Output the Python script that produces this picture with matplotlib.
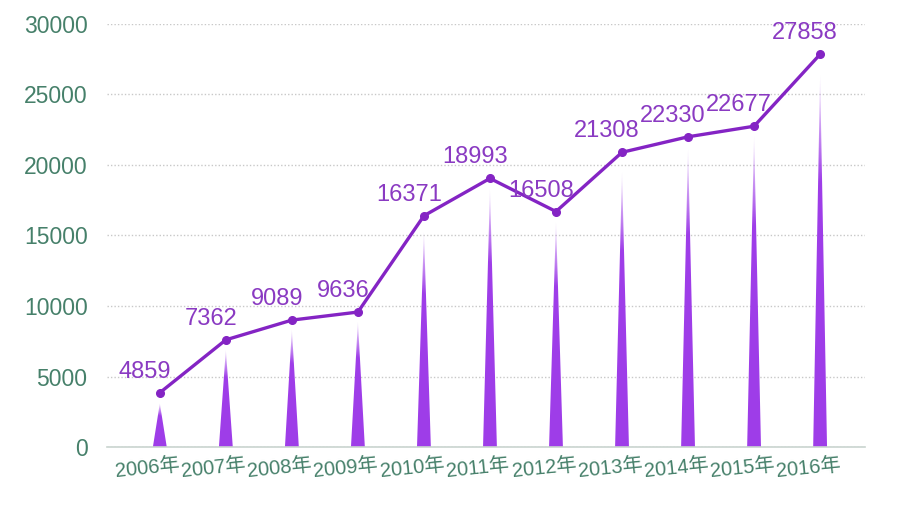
import matplotlib.pyplot as plt
import numpy as np
from matplotlib.patches import Polygon
from matplotlib.transforms import ScaledTranslation


YEARS = ["2006年", "2007年", "2008年", "2009年", "2010年", "2011年",
         "2012年", "2013年", "2014年", "2015年", "2016年"]
# numbers printed above the points
LABELS = [4859, 7362, 9089, 9636, 16371, 18993, 16508, 21308, 22330, 22677, 27858]
# where the points actually sit in the picture
LINE_VALUES = [3850, 7600, 9000, 9570, 16400, 19050, 16700, 20900, 22000, 22750, 27850]
# heights of the spikes under the points
SPIKE_TOPS = [3100, 6900, 8350, 8900, 15300, 18350, 16000, 19550, 21200, 22100, 26400]
Y_TICKS = [0, 5000, 10000, 15000, 20000, 25000, 30000]

LINE_COLOR = "#8424c4"
SPIKE_COLOR = (0.62, 0.24, 0.91)
LABEL_COLOR = "#8a3ac2"
TICK_COLOR = "#46806a"


def draw_spike(ax, x, top, half_width=0.105):
    poly = Polygon([(x - half_width, 0), (x + half_width, 0), (x, top)],
                   closed=True, facecolor="none", edgecolor="none",
                   transform=ax.transData)
    ax.add_patch(poly)
    t = np.linspace(1, 0, 200)[:, None]  # 1 at top row, 0 at bottom row
    alpha = np.clip(3.2 * (1 - t) + 0.08, 0, 1)
    grad = np.zeros((200, 2, 4))
    grad[..., 0] = SPIKE_COLOR[0]
    grad[..., 1] = SPIKE_COLOR[1]
    grad[..., 2] = SPIKE_COLOR[2]
    grad[..., 3] = alpha
    im = ax.imshow(grad, extent=[x - half_width, x + half_width, 0, top],
                   aspect="auto", origin="upper", zorder=2, interpolation="bilinear")
    im.set_clip_path(poly)


def main():
    fig = plt.figure(figsize=(8.97, 5.13), dpi=100)
    ax = fig.add_axes([107 / 897, 66 / 513, 758 / 897, 423 / 513])
    x = np.arange(len(YEARS))

    for xi, top in zip(x, SPIKE_TOPS):
        draw_spike(ax, xi, top)

    ax.plot(x, LINE_VALUES, color=LINE_COLOR, lw=2.4, marker="o",
            markersize=5.5, zorder=4)

    for xi, v, lab in zip(x, LINE_VALUES, LABELS):
        ax.annotate(str(lab), (xi, v), xytext=(-15, 21), textcoords="offset pixels",
                    ha="center", va="center", fontsize=17, color=LABEL_COLOR,
                    family="Liberation Sans", zorder=5)

    ax.set_xlim(-0.8, 10.68)
    ax.set_ylim(0, 30000)
    ax.set_yticks(Y_TICKS)
    ax.set_yticklabels([str(v) for v in Y_TICKS], fontsize=16.5, color=TICK_COLOR,
                       family="Liberation Sans")
    ax.set_xticks(x)
    ax.set_xticklabels(YEARS, fontsize=14.5, color=TICK_COLOR, rotation=6,
                       family=["Liberation Sans", "Noto Sans CJK SC"])
    ax.tick_params(axis="y", length=0, pad=14)
    ax.tick_params(axis="x", length=0, pad=6)
    offset = ScaledTranslation(-0.12, 0, fig.dpi_scale_trans)
    for label in ax.xaxis.get_majorticklabels():
        label.set_transform(label.get_transform() + offset)

    ax.grid(axis="y", color="#c8c8c8", linestyle=(0, (1, 1.5)), lw=1.0)
    ax.set_axisbelow(True)
    for side in ["top", "right", "left"]:
        ax.spines[side].set_visible(False)
    ax.spines["bottom"].set_color("#c9d4cf")
    ax.spines["bottom"].set_linewidth(1.2)

    fig.savefig("out.png", dpi=100)


if __name__ == "__main__":
    main()
